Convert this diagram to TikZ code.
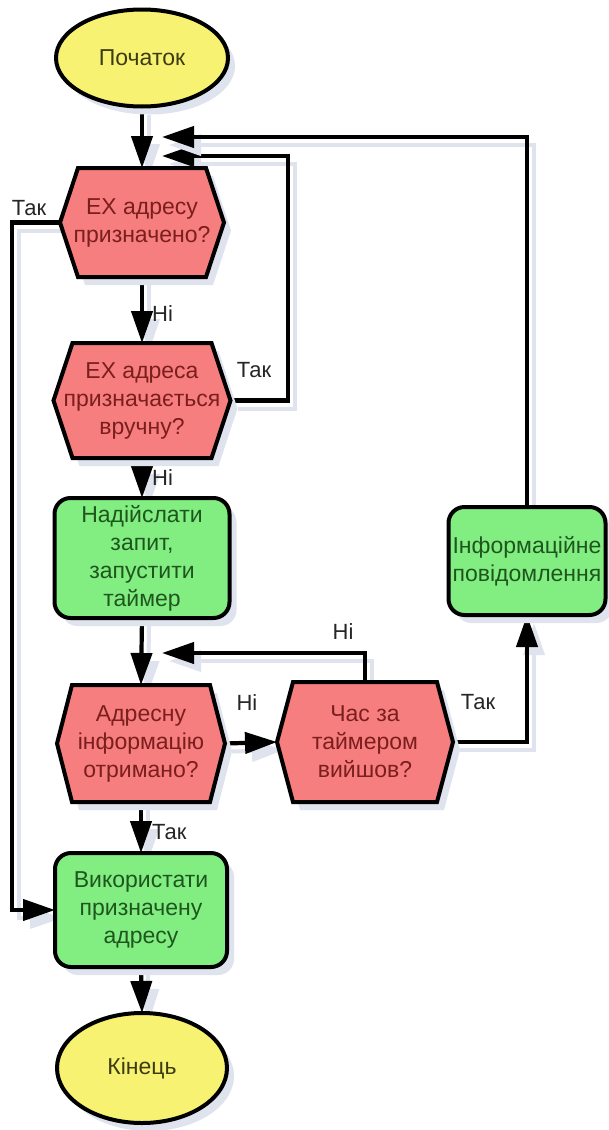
\documentclass[tikz,border=0pt]{standalone}
\usepackage{fontspec}
\setmainfont{Liberation Sans}
\usetikzlibrary{arrows.meta,shapes.geometric,shadows}
\pgfdeclarelayer{paper}
\pgfdeclarelayer{lines}
\pgfdeclarelayer{shapes}
\pgfsetlayers{paper,lines,shapes,main}

\definecolor{termfill}{HTML}{F8F272}
\definecolor{termtext}{HTML}{3C3C14}
\definecolor{decfill}{HTML}{F77E7E}
\definecolor{dectext}{HTML}{7A1E1E}
\definecolor{actfill}{HTML}{82EE82}
\definecolor{acttext}{HTML}{1E561E}
\definecolor{shadowc}{HTML}{DEE3EE}

\tikzset{
  shade off/.style={drop shadow={shadow xshift=7pt, shadow yshift=-8pt, fill=shadowc, opacity=1}},
  base/.style={font=\fontsize{23}{28}\selectfont, align=center, inner sep=0pt, outer sep=0pt},
  term/.style={base, ellipse, draw, line width=4pt, fill=termfill, text=termtext, shade off},
  act/.style={base, rectangle, rounded corners=16pt, draw, line width=4pt, fill=actfill, text=acttext, shade off},
  dec/.style={base, rectangle, text=dectext},
  hexbody/.style={draw, line width=4pt, fill=decfill, line join=miter, shade off},
  conn/.style={line width=4.2pt, -{Triangle[length=32pt,width=21pt]},
    preaction={draw=shadowc, line width=4pt, transform canvas={shift={(7pt,-8pt)}}}},
  lbl/.style={font=\fontsize{22}{26}\selectfont, text=black!85, inner sep=0pt},
}

\begin{document}
\begin{tikzpicture}[x=1pt,y=-1pt]
\useasboundingbox (0,0) rectangle (608,1130);
\begin{pgfonlayer}{paper}
  \fill[white] (0,0) rectangle (608,1130);
\end{pgfonlayer}

% terminals
\node[term, minimum width=172pt, minimum height=97pt] (start) at (142,58) {Початок};
\node[term, minimum width=170pt, minimum height=110pt] (end) at (142,1068) {Кінець};

% decisions (outline drawn on the shapes layer below)
\node[dec, minimum width=164pt, minimum height=109pt] (h1) at (142,222.5) {ЕХ адресу\\призначено?};
\node[dec, minimum width=177pt, minimum height=115pt] (h2) at (142,400.5) {ЕХ адреса\\призначається\\вручну?};
\node[dec, minimum width=168pt, minimum height=117pt] (h3) at (141,743.5) {Адресну\\інформацію\\отримано?};
\node[dec, minimum width=176pt, minimum height=120pt] (h4) at (365,742) {Час за\\таймером\\вийшов?};

% actions
\node[act, minimum width=175pt, minimum height=120pt] (b1) at (142,558) {Надійслати\\запит,\\запустити\\таймер};
\node[act, minimum width=157pt, minimum height=108pt] (b2) at (527,561) {Інформаційне\\повідомлення};
\node[act, minimum width=172pt, minimum height=114pt] (b3) at (141,910) {Використати\\призначену\\адресу};

% arrow ends that meet a line instead of a node
\coordinate (m1) at (162,137);
\coordinate (m2) at (162,156);
\coordinate (m3) at (162,653);

% branch labels
\node[lbl] (t1) at (29,208) {Так};
\node[lbl, anchor=west] (n1) at (152,314) {Ні};
\node[lbl] (t2) at (254,370) {Так};
\node[lbl, anchor=west] (n2) at (152,478) {Ні};
\node[lbl] (n3) at (343,632) {Ні};
\node[lbl] (n4) at (247,703) {Ні};
\node[lbl] (t3) at (478,702) {Так};
\node[lbl, anchor=west] (t4) at (152,832) {Так};

\begin{pgfonlayer}{shapes}
  \foreach \n/\d in {h1/18pt,h2/19pt,h3/15pt,h4/16pt}
    \filldraw[hexbody] (\n.west) -- ([xshift=\d]\n.north west) -- ([xshift=-\d]\n.north east)
      -- (\n.east) -- ([xshift=-\d]\n.south east) -- ([xshift=\d]\n.south west) -- cycle;
\end{pgfonlayer}

\begin{pgfonlayer}{lines}
  \draw[conn] (start.south) -- (h1.north);
  \draw[conn] (h1.south) -- (h2.north);
  \draw[conn] (h2.south) -- (b1.north);
  \draw[conn] (b1.south) -- (h3.north);
  \draw[conn] (h3.south) -- (b3.north);
  \draw[conn] (b3.south) -- (end.north);
  \draw[conn] (h1.west) -- (12,222.5) |- (b3.west);
  \draw[conn] (h2.east) -- (288,400.5) |- (m2);
  \draw[conn] (b2.north) |- (m1);
  \draw[conn] (h3.east) -- (h4.west);
  \draw[conn] (h4.north) |- (m3);
  \draw[conn] (h4.east) -| (b2.south);
\end{pgfonlayer}
\end{tikzpicture}
\end{document}
